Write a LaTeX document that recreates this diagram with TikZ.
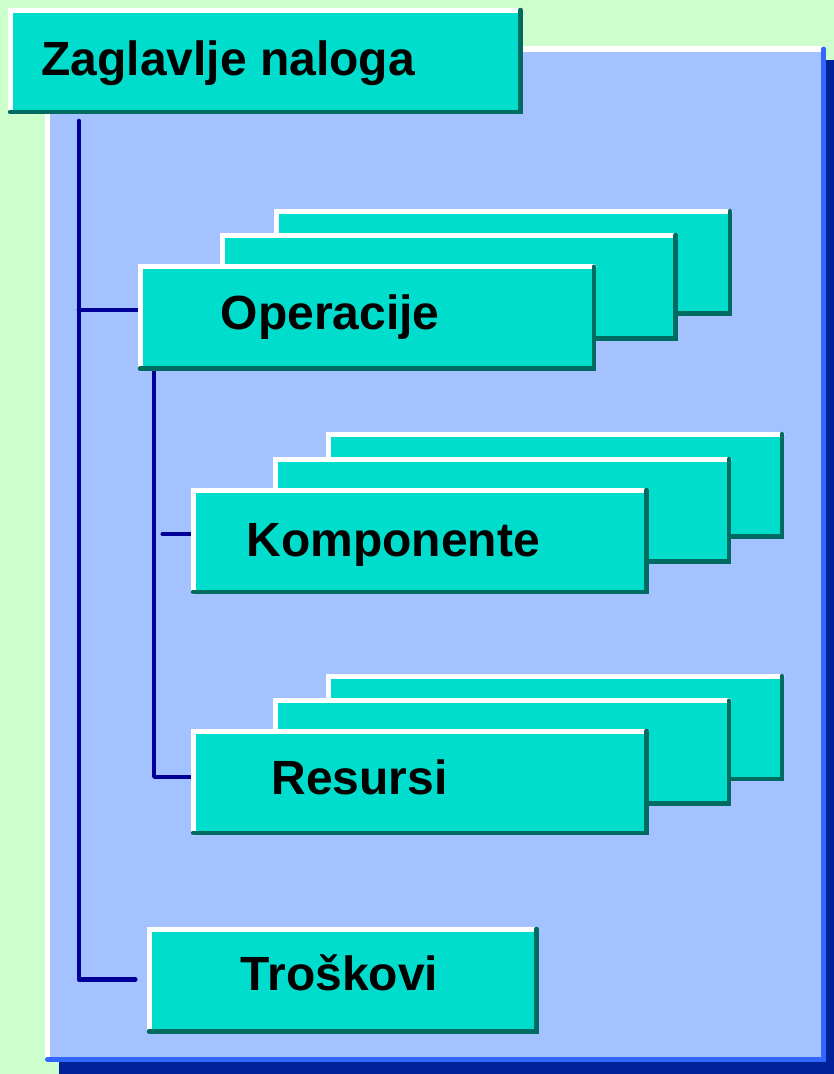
\documentclass[tikz,border=0pt]{standalone}
\usepackage{fontspec}
\setmainfont{Liberation Sans}
\usepackage{tikz}

\definecolor{mint}{HTML}{CCFFCC}
\definecolor{panelfill}{HTML}{A3C2FF}
\definecolor{panelrim}{HTML}{3366FF}
\definecolor{paneldark}{HTML}{002299}
\definecolor{cardfill}{HTML}{00DDCC}
\definecolor{cardshade}{HTML}{006B60}
\definecolor{linknavy}{HTML}{000099}

\pgfdeclarelayer{bg}
\pgfsetlayers{bg,main}

\tikzset{
  card/.style={fill=cardfill, inner sep=0pt, outer sep=0pt, anchor=north west,
    font=\fontsize{48}{52}\selectfont\bfseries},
  hilite/.style={draw=white, line width=5pt, line cap=round},
  shade/.style={draw=cardshade, line width=4.5pt, line cap=round},
  link/.style={draw=linknavy, line width=4.5pt, line cap=round, line join=round}
}

% \card{name}{x1}{y1}{x2}{y2}{left pad}{baseline drop}{text}
\newcommand{\card}[8]{%
  \node[card, minimum height=#5-#3] (#1) at (#2,#3)
    {\makebox[\dimexpr #4pt-#2pt\relax][l]{\hspace*{#6pt}\raisebox{-#7pt}[0pt][0pt]{#8}}};
  \draw[hilite] (#1.south west) |- (#1.north east);
  \draw[shade] (#1.north east) |- (#1.south west);
}

\begin{document}
\begin{tikzpicture}[x=1pt, y=-1pt]
\useasboundingbox (0,0) rectangle (834,1074);

% header
\card{head}{10}{10}{520.5}{112}{31.5}{14}{Zaglavlje naloga}

% operations stack
\card{opc}{276}{211}{730}{313.5}{0}{0}{}
\card{opb}{222.5}{235}{675.7}{338.3}{0}{0}{}
\card{opm}{140}{266.7}{594}{368.7}{80.7}{11.8}{Operacije}

% components stack
\card{kpc}{328.5}{434}{782}{536.5}{0}{0}{}
\card{kpb}{275}{459}{729}{561.5}{0}{0}{}
\card{kpm}{193}{490}{646.5}{592}{53.5}{15}{Komponente}

% resources stack
\card{rsc}{328.5}{676}{782}{779}{0}{0}{}
\card{rsb}{275}{700.7}{729}{803.5}{0}{0}{}
\card{rsm}{193}{731}{646.5}{833}{78.5}{12}{Resursi}

% costs
\card{cost}{149}{929}{536.5}{1031.5}{91.7}{9.8}{Troškovi}

\begin{pgfonlayer}{bg}
  \fill[mint] (0,0) rectangle (834,1074);
  \fill[paneldark] (59,60) rectangle (834,1074);
  \fill[panelfill] (47.5,49) rectangle (823.5,1059.2);
  \draw[white, line width=5.5pt] (47.5,1059.2) |- (823.5,49);
  \draw[panelrim, line width=5pt, line cap=round] (823.5,49) |- (47.5,1059.2);

  \coordinate (trunktop) at (78.8,121);
  \coordinate (trunkend) at (135.3,979.5);
  \coordinate (opjoin) at (78.8,310);
  \coordinate (subtop) at (154.2,368.7);
  \coordinate (subend) at (154.2,776.8);
  \coordinate (kpjoin) at (162.7,534);

  \draw[link] (trunktop) |- (trunkend);
  \draw[link] (opjoin) -- (opjoin -| opm.west);
  \draw[link] (subtop) |- (rsm.west |- subend);
  \draw[link] (kpjoin) -- (kpjoin -| kpm.west);
\end{pgfonlayer}
\end{tikzpicture}
\end{document}
